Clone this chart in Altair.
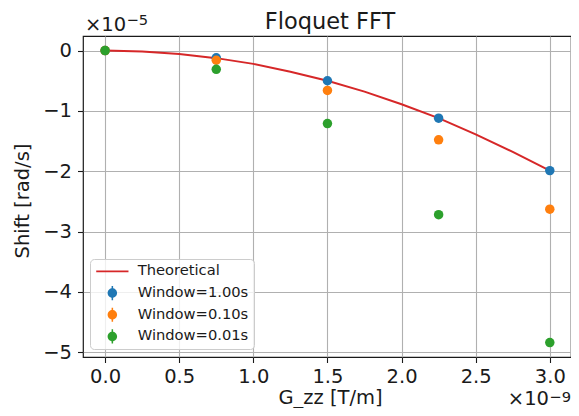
import altair as alt
import pandas as pd

# data (x in units of 1e-9 T/m, y in units of 1e-5 rad/s)
g_vals = [0.0, 0.75, 1.5, 2.25, 3.0]
shift_1s = [0.0, -0.12, -0.50, -1.12, -1.99]
shift_01s = [0.0, -0.16, -0.66, -1.48, -2.63]
shift_001s = [0.0, -0.31, -1.21, -2.72, -4.84]

theory_x = [0.0, 0.25, 0.5, 0.75, 1.0, 1.25, 1.5, 1.75, 2.0, 2.25, 2.5, 2.75, 3.0]
theory_y = [0.0, -0.014, -0.055, -0.125, -0.22, -0.35, -0.50, -0.68, -0.89, -1.12, -1.39, -1.68, -1.99]

series = ["Theoretical", "Window=1.00s", "Window=0.10s", "Window=0.01s"]
colors = ["#d62728", "#1f77b4", "#ff7f0e", "#2ca02c"]
ERR = "M0,-1A1,1,0,1,1,0,1A1,1,0,1,1,0,-1Z M-0.16,-1.5L0.16,-1.5L0.16,1.5L-0.16,1.5Z"
shapes = ["M-3.4,-0.2L3.4,-0.2L3.4,0.2L-3.4,0.2Z", ERR, ERR, ERR]

x_ticks = [0, 0.5, 1.0, 1.5, 2.0, 2.5, 3.0]
y_ticks = [0, -1, -2, -3, -4, -5]

theory_df = pd.DataFrame({"x": theory_x, "y": theory_y, "s": "Theoretical"})
pts = []
for name, vals in zip(series[1:], [shift_1s, shift_01s, shift_001s]):
    for gx, v in zip(g_vals, vals):
        pts.append({"x": gx, "y": v, "s": name, "o": series.index(name)})
pts_df = pd.DataFrame(pts)

FONT = "DejaVu Sans"
TXT = "#1a1a1a"
LBL = 19.5
SUP = 14.7
W, H = 488, 321

xs = alt.Scale(domain=[-0.149, 3.143], nice=False, zero=False)
ys = alt.Scale(domain=[-5.08, 0.242], nice=False, zero=False)
cs = alt.Scale(domain=series, range=colors)
ss = alt.Scale(domain=series, range=shapes)

legend = alt.Legend(
    title=None, orient="none", legendX=7, legendY=223,
    symbolSize=90, symbolOffset=10, labelOffset=18,
    labelFontSize=14.7, labelFont=FONT, labelColor=TXT,
    rowPadding=5.7, padding=5,
    strokeColor="#cccccc", fillColor="rgba(255,255,255,0.8)", cornerRadius=4,
    symbolStrokeWidth=0,
)

xaxis = alt.Axis(title="G_zz [T/m]", values=x_ticks, format=".1f",
                 grid=True, gridColor="#b0b0b0", gridWidth=1.1,
                 tickSize=5.5, tickColor=TXT, tickWidth=1.1, labelPadding=5, domain=False,
                 labelFont=FONT, labelFontSize=LBL, labelColor=TXT,
                 titleFont=FONT, titleFontSize=LBL, titleFontWeight="normal", titleColor=TXT,
                 titleBaseline="alphabetic", titleY=46.5, titleX=247)
yaxis = alt.Axis(title="Shift [rad/s]", values=y_ticks, format="d",
                 grid=True, gridColor="#b0b0b0", gridWidth=1.1,
                 tickSize=5.5, tickColor=TXT, tickWidth=1.1, labelPadding=6, domain=False,
                 labelFont=FONT, labelFontSize=LBL, labelColor=TXT,
                 titleFont=FONT, titleFontSize=LBL, titleFontWeight="normal", titleColor=TXT,
                 titleBaseline="alphabetic", titleX=-55, titleY=H / 2 + 4)

line = alt.Chart(theory_df).mark_line(strokeWidth=2, clip=True).encode(
    x=alt.X("x:Q", scale=xs, axis=xaxis),
    y=alt.Y("y:Q", scale=ys, axis=yaxis),
    color=alt.Color("s:N", scale=cs, legend=legend),
)

# legend-carrying layer (tiny marks hidden under the visible circles)
legend_pts = alt.Chart(pts_df).mark_point(filled=True, size=1, opacity=1).encode(
    x=alt.X("x:Q", scale=xs),
    y=alt.Y("y:Q", scale=ys),
    color=alt.Color("s:N", scale=cs, legend=legend),
    shape=alt.Shape("s:N", scale=ss, legend=legend),
)

points = alt.Chart(pts_df).mark_circle(size=90, opacity=1).encode(
    x=alt.X("x:Q", scale=xs),
    y=alt.Y("y:Q", scale=ys),
    color=alt.Color("s:N", scale=cs, legend=legend),
    order=alt.Order("o:Q"),
)

def txt(t, x, y, size, align="left"):
    return alt.Chart(pd.DataFrame({"t": [t]})).mark_text(
        align=align, baseline="alphabetic", font=FONT, fontSize=size, color=TXT
    ).encode(x=alt.value(x), y=alt.value(y), text="t:N")

title = txt("Floquet FFT", 247, -7.5, 22.5, align="center")
off_y1 = txt("×10", 2, -5.5, LBL)
off_y2 = txt("−5", 43.5, -11, SUP)
off_x1 = txt("×10", W - 22, 368.5, LBL, align="right")
off_x2 = txt("−9", W, 365.5, SUP, align="right")

chart = alt.layer(line, legend_pts, points, title, off_y1, off_y2, off_x1, off_x2).properties(
    width=W, height=H,
    autosize=alt.AutoSizeParams(type="none"),
    padding={"left": 75, "top": 28, "right": 0, "bottom": 51},
).configure_view(stroke=TXT, strokeWidth=1.2)

chart.save("out.html", embed_options={"renderer": "svg", "actions": False})
